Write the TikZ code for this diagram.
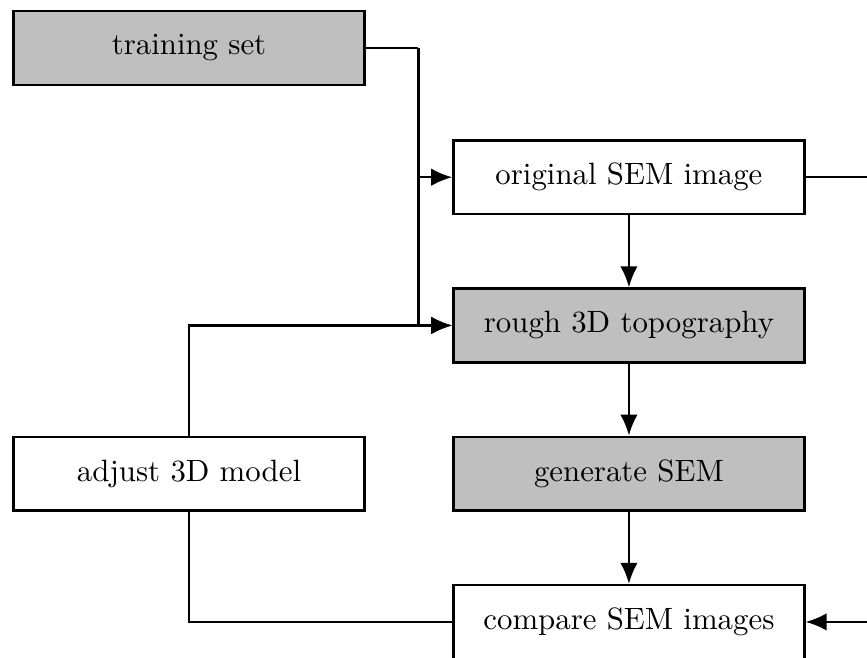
\documentclass[tikz,border=0pt]{standalone}
\usetikzlibrary{arrows.meta,positioning}

\tikzset{
  stepbox/.style={draw=black, thick, minimum width=4cm, minimum height=0.84cm, inner sep=2pt},
  greybox/.style={stepbox, fill=black!25},
  flow/.style={thick, -{Latex[length=2.4mm,width=2mm]}}
}

\begin{document}
\begin{tikzpicture}
  \useasboundingbox (0,0) rectangle (9.884,-7.49);
  \clip (0,0) rectangle (9.884,-7.49);
  % boxes
  \node[greybox] (train)    at (2.155,-0.547) {training set};
  \node[stepbox] (orig)     at (7.17,-2.02)   {original SEM image};
  \node[greybox] (rough)    at (7.17,-3.71)   {rough 3D topography};
  \node[stepbox] (adjust)   at (2.155,-5.40)  {adjust 3D model};
  \node[greybox] (generate) at (7.17,-5.40)   {generate SEM};
  \node[stepbox] (compare)  at (7.17,-7.09)   {compare SEM images};
  \coordinate (loop) at (10.4,0);
  % connectors
  \draw[thick] (train.east) -- ++(0.6,0) coordinate (tj);
  \draw[flow] (tj) |- (rough.west);
  \draw[flow] (tj |- orig.west) -- (orig.west);
  \draw[flow] (adjust.north) |- (rough.west);
  \draw[flow] (orig) -- (rough);
  \draw[flow] (rough) -- (generate);
  \draw[flow] (generate) -- (compare);
  \draw[thick] (adjust.south) |- (compare.west);
  \draw[flow] (orig.east) -- (loop |- orig.east) -- (loop |- compare.east) -- (compare.east);
\end{tikzpicture}
\end{document}
